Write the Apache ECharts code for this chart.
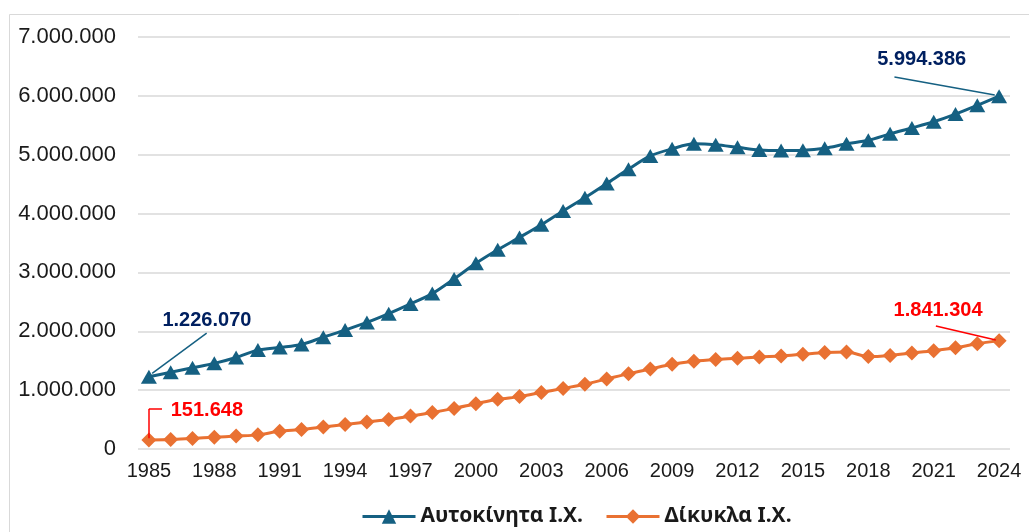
<!DOCTYPE html>
<html>
<head>
<meta charset="utf-8">
<script src="https://cdn.jsdelivr.net/npm/echarts@6/dist/echarts.min.js"></script>
<style>
html,body{margin:0;padding:0;background:#fff;}
#chart{width:1029px;height:532px;}
</style>
</head>
<body>
<div id="chart"></div>
<script>
const years = [];
for (let y = 1985; y <= 2024; y++) years.push(y);
const xTicks = [1985,1988,1991,1994,1997,2000,2003,2006,2009,2012,2015,2018,2021,2024];
const seriesNames = ['Αυτοκίνητα Ι.Χ.', 'Δίκυκλα Ι.Χ.'];
const cars = [1226070,1305000,1380000,1455000,1555000,1680000,1725000,1775000,1900000,2020000,
  2150000,2300000,2465000,2640000,2890000,3155000,3385000,3595000,3810000,4045000,
  4270000,4510000,4755000,4980000,5100000,5185000,5170000,5125000,5080000,5070000,
  5075000,5110000,5185000,5245000,5355000,5455000,5560000,5690000,5840000,5994386];
const bikes = [151648,160000,180000,200000,220000,240000,300000,330000,375000,415000,
  460000,500000,560000,620000,690000,770000,845000,890000,960000,1030000,
  1100000,1190000,1280000,1360000,1440000,1490000,1520000,1540000,1565000,1580000,
  1610000,1640000,1650000,1570000,1590000,1630000,1670000,1720000,1790000,1841304];

function fmt(v){ return String(Math.round(v)).replace(/\B(?=(\d{3})+(?!\d))/g, '.'); }
const pairs = arr => arr.map((v,i) => [years[i], v]);

const firstYear = years[0], lastYear = years[years.length-1];
const BLUE = '#156082', ORANGE = '#E97132', NAVY = '#002060', RED = '#FF0000';

const labelFont = {fontFamily:'Liberation Sans, Arial, sans-serif', fontWeight:'bold', fontSize:20};
function textMark(coord, text, color){
  return {coord: coord, symbol:'circle', symbolSize:1, itemStyle:{color:'rgba(0,0,0,0)'},
    label:Object.assign({show:true, position:'inside', formatter:text, color:color}, labelFont)};
}

const chart = echarts.init(document.getElementById('chart'), null, {renderer:'canvas'});
chart.setOption({
  animation:false,
  backgroundColor:'#fff',
  graphic:[{type:'rect', silent:true, z:-10,
    shape:{x:9.5, y:14.5, width:1100, height:600},
    style:{fill:'none', stroke:'#D9D9D9', lineWidth:1}}],
  grid:{left:138, right:19, top:37, bottom:83, containLabel:false},
  legend:{
    left:356, top:501, itemWidth:53, itemHeight:18, itemGap:22,
    lineStyle:{width:3},
    textStyle:{fontFamily:'Noto Sans, sans-serif', fontWeight:'bold', fontSize:21, color:'#1a1a1a'},
    data: seriesNames
  },
  xAxis:{
    type:'value', min:firstYear-0.5, max:lastYear+0.5,
    axisLine:{show:false}, axisTick:{show:false}, splitLine:{show:false},
    axisLabel:{customValues:xTicks, formatter:v=>String(v), margin:12,
      fontFamily:'Liberation Sans, Arial, sans-serif', fontSize:20, color:'#1a1a1a'}
  },
  yAxis:{
    type:'value', min:0, max:7000000, interval:1000000,
    axisLine:{show:false}, axisTick:{show:false},
    splitLine:{lineStyle:{color:'#D9D9D9', width:1.5}},
    axisLabel:{formatter:fmt, margin:22,
      fontFamily:'Liberation Sans, Arial, sans-serif', fontSize:22, color:'#1a1a1a'}
  },
  series:[
    {
      name:seriesNames[0], type:'line', data:pairs(cars), smooth:0.3,
      symbol:'triangle', symbolSize:[16,14], showAllSymbol:true,
      lineStyle:{color:BLUE, width:3}, itemStyle:{color:BLUE},
      markLine:{silent:true, symbol:['none','none'], label:{show:false},
        lineStyle:{color:BLUE, width:1.5, type:'solid'},
        data:[
          [{coord:[1987.65,1970000]},{coord:[firstYear+0.15, cars[0]+60000]}],
          [{coord:[2019.2,6320000]},{coord:[lastYear-0.2, cars[cars.length-1]+20000]}]
        ]},
      markPoint:{silent:true, data:[
        textMark([1987.66,2190000], fmt(cars[0]), NAVY),
        textMark([2020.45,6610000], fmt(cars[cars.length-1]), NAVY)
      ]}
    },
    {
      name:seriesNames[1], type:'line', data:pairs(bikes), smooth:0.3,
      symbol:'diamond', symbolSize:15, showAllSymbol:true,
      lineStyle:{color:ORANGE, width:3}, itemStyle:{color:ORANGE},
      markLine:{silent:true, symbol:['none','none'], label:{show:false},
        lineStyle:{color:RED, width:1.5, type:'solid'},
        data:[
          [{coord:[1985.6,680000]},{coord:[firstYear,680000]}],
          [{coord:[firstYear,680000]},{coord:[firstYear,bikes[0]+30000]}],
          [{coord:[2021.1,2090000]},{coord:[lastYear-0.15, bikes[bikes.length-1]+10000]}]
        ]},
      markPoint:{silent:true, data:[
        textMark([1987.66,660000], fmt(bikes[0]), RED),
        textMark([2021.2,2360000], fmt(bikes[bikes.length-1]), RED)
      ]}
    }
  ]
});
</script>
</body>
</html>
